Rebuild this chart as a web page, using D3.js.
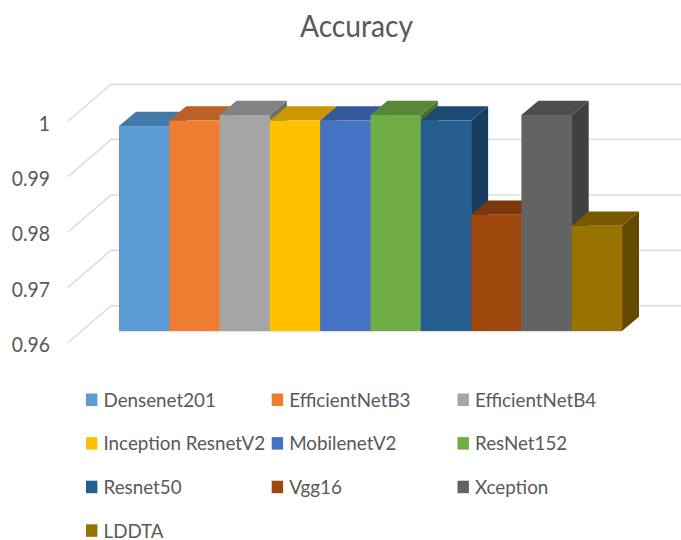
<!DOCTYPE html>
<html>
<head>
<meta charset="utf-8">
<script src="https://cdn.jsdelivr.net/npm/d3@7/dist/d3.min.js"></script>
<style>
html,body{margin:0;padding:0;background:#fff;}
svg{display:block;}
text{font-family:Lato,"Open Sans",sans-serif;fill:#595959;}
</style>
</head>
<body>
<svg id="chart" width="681" height="540"></svg>
<script>
const models = ["Densenet201","EfficientNetB3","EfficientNetB4","Inception ResnetV2","MobilenetV2","ResNet152","Resnet50","Vgg16","Xception","LDDTA"];
const accuracy = [0.997,0.998,0.999,0.998,0.998,0.999,0.998,0.981,0.999,0.979];
const frontColors = ["#5b9bd5","#ed7d31","#a5a5a5","#ffc000","#4472c4","#70ad47","#255e91","#9e480e","#636363","#997300"];
const topColors = ["#4279a8","#bb6126","#828282","#c99700","#355a9b","#578838","#1c4a73","#7c380a","#4d4d4d","#775a00"];
const sideColors = ["#37658c","#9c5120","#6c6c6c","#a77e00","#2c4b81","#49712f","#173d5f","#672f09","#404040","#634a00"];
const yTicks = [0.96,0.97,0.98,0.99,1];
const legendCols = [86,271.7,457.5];

const svg = d3.select("#chart");

// Front plane of the 3D box; the depth offsets below project it back.
const x = d3.scaleBand().domain(models).range([119,622]).padding(0);
const y = d3.scaleLinear().domain([0.96,1]).range([331,109.5]);
const barDepth = {dx:17, dy:-14.3};
const wallBack = {dx:0, dy:-25.3};
const wallFront = {dx:0, dy:11.7};

// Gridlines: a slanted segment on the side wall, then along the back wall.
const grid = svg.append("g").attr("fill","none").attr("stroke","#dcdcdc").attr("stroke-width",1.5);
grid.selectAll("path").data(yTicks).join("path")
  .attr("d", t => {
    const yb = y(t)+wallBack.dy, yf = y(t)+wallFront.dy;
    return d3.line()([[68,yf],[111,yb],[681,yb]]);
  });

// Floor edge under the bars
svg.append("line").attr("x1",119).attr("x2",622).attr("y1",y(0.96)+0.5).attr("y2",y(0.96)+0.5)
  .attr("stroke","#e4e4e4").attr("stroke-width",1.4);

// Tick labels, slightly condensed
svg.append("g").selectAll("text").data(yTicks).join("text")
  .attr("transform",t=>`translate(50,${y(t)+wallFront.dy+9.3}) scale(0.88,1)`)
  .attr("text-anchor","end")
  .attr("font-size",22)
  .text(t=>d3.format("~g")(t));

// Bars, painted left to right so each one overlaps its neighbour's depth faces
const bars = svg.append("g").selectAll("g").data(models).join("g");
const w = x.bandwidth(), base = y(0.96);
bars.append("path").attr("fill",(d,i)=>sideColors[i])
  .attr("d",(d,i)=>{
    const r=x(d)+w, t=y(accuracy[i]);
    return d3.line()([[r,t],[r+barDepth.dx,t+barDepth.dy],[r+barDepth.dx,base+barDepth.dy],[r,base]])+"Z";
  });
bars.append("path").attr("fill",(d,i)=>topColors[i])
  .attr("d",(d,i)=>{
    const l=x(d), t=y(accuracy[i]);
    return d3.line()([[l,t],[l+barDepth.dx,t+barDepth.dy],[l+w+barDepth.dx,t+barDepth.dy],[l+w,t]])+"Z";
  });
bars.append("rect").attr("fill",(d,i)=>frontColors[i])
  .attr("x",d=>x(d)).attr("width",w+0.3)
  .attr("y",(d,i)=>y(accuracy[i])).attr("height",(d,i)=>base-y(accuracy[i]));

// Title
svg.append("text").attr("transform","translate(356.5,37) scale(0.91,1)").attr("text-anchor","middle")
  .attr("font-size",31).text("Accuracy");

// Legend: three columns, four rows
const legend = svg.append("g").selectAll("g").data(models).join("g")
  .attr("transform",(d,i)=>`translate(${legendCols[i%3]},${399.7+Math.floor(i/3)*43.6})`);
legend.append("rect").attr("y",-6.2).attr("width",11.4).attr("height",12.5).attr("fill",(d,i)=>frontColors[i]);
legend.append("text").attr("transform","translate(17.5,7) scale(0.94,1)").attr("font-size",20).text(d=>d);
</script>
</body>
</html>
